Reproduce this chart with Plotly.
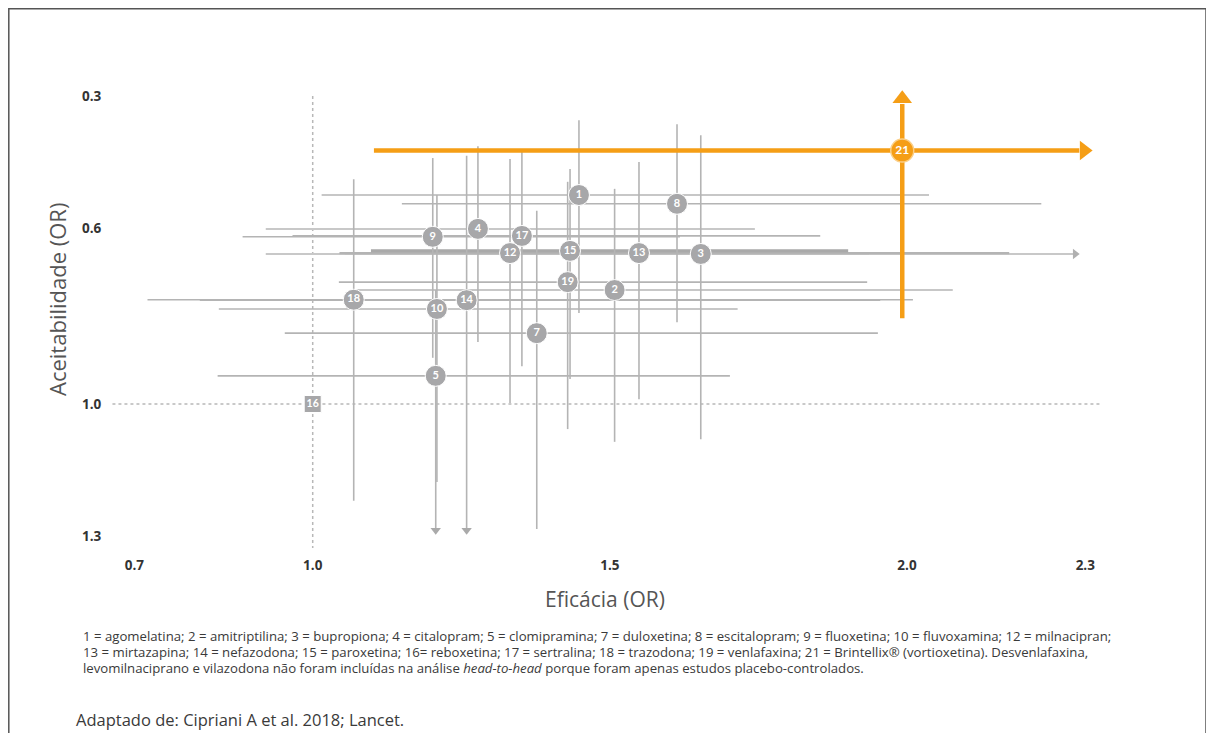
import plotly.graph_objects as go

# ---------------- data ----------------
drug_ids = ["1", "2", "3", "4", "5", "7", "8", "9", "10", "12", "13", "14", "15", "17", "18", "19"]
efficacy = [1.448, 1.508, 1.653, 1.278, 1.207, 1.377, 1.613, 1.202, 1.209, 1.332, 1.549, 1.259, 1.433, 1.352, 1.069, 1.429]
acceptability = [0.525, 0.741, 0.659, 0.602, 0.936, 0.839, 0.545, 0.620, 0.784, 0.657, 0.657, 0.764, 0.652, 0.618, 0.763, 0.723]
eff_low = [1.015, 1.074, 0.921, 0.921, 0.840, 0.953, 1.150, 0.882, 0.842, 1.045, 1.054, 0.810, 1.098, 0.966, 0.722, 1.044]
eff_high = [2.037, 2.077, None, 1.744, 1.702, 1.951, 2.226, 1.618, 1.715, 1.936, 2.172, 1.955, 1.901, 1.854, 2.010, 1.933]
acc_low = [0.355, 0.511, 0.389, 0.414, 0.741, 0.561, 0.364, 0.441, 0.525, 0.443, 0.450, 0.436, 0.466, 0.427, 0.489, 0.495]
acc_high = [0.793, 1.086, 1.080, 0.859, None, 1.284, 0.814, 0.895, 1.177, 0.998, 0.989, None, 0.943, 0.914, 1.220, 1.057]

ref_id = "16"
ref_eff = 1.0
ref_acc = 1.0

vort_id = "21"
vort_eff = 1.992
vort_acc = 0.424
vort_eff_low = 1.103
vort_acc_high = 0.805

x_tickvals = [0.7, 1.0, 1.5, 2.0, 2.3]
x_ticktext = ["0.7", "1.0", "1.5", "2.0", "2.3"]
y_tickvals = [0.3, 0.6, 1.0, 1.3]
y_ticktext = ["0.3", "0.6", "1.0", "1.3"]

x_title = "Eficácia (OR)"
y_title = "Aceitabilidade (OR)"
footnote_lines = [
    "1 = agomelatina; 2 = amitriptilina; 3 = bupropiona; 4 = citalopram; 5 = clomipramina; "
    "7 = duloxetina; 8 = escitalopram; 9 = fluoxetina; 10 = fluvoxamina; 12 = milnacipran;",
    "13 = mirtazapina; 14 = nefazodona; 15 = paroxetina; 16= reboxetina; 17 = sertralina; "
    "18 = trazodona; 19 = venlafaxina; 21 = Brintellix® (vortioxetina). Desvenlafaxina,",
    "levomilnaciprano e vilazodona não foram incluídas na análise <i>head-to-head</i> "
    "porque foram apenas estudos placebo-controlados.",
]
source = "Adaptado de: Cipriani A et al. 2018; Lancet."

# ---------------- styles / geometry ----------------
PAGE_OFF = 8                     # browser body margin
W, H = 1206, 725
ML, MR, MT, MB = 67, 99, 44, 153
X_RANGE = [0.6, 2.35]
Y_RANGE = [1.4, 0.2]
X_OPEN_GRAY = 2.283      # where open-ended grey CIs stop (arrow)
Y_OPEN_GRAY = 1.283
X_OPEN_ORANGE = 2.29
Y_OPEN_ORANGE = 0.318

GRAY_LINE = "#b4b4b4"
GRAY_MARK = "#a7a7a9"
ORANGE = "#f59e16"
FONT = "Lato"
TFONT = "Open Sans"

fig = go.Figure()

# horizontal (efficacy) CIs
for i, d in enumerate(drug_ids):
    hi = eff_high[i] if eff_high[i] is not None else X_OPEN_GRAY
    width = 1.6
    color = GRAY_LINE
    if d == "15":
        width, color = 3.2, "#a9a9a9"
    elif d in ("12", "13"):
        width = 2.2
    elif d in ("3", "4"):
        color = "#c8c8c8"
        width = 2.0
    fig.add_trace(go.Scatter(x=[eff_low[i], hi], y=[acceptability[i], acceptability[i]],
                             mode="lines", line=dict(color=color, width=width),
                             hoverinfo="skip", showlegend=False))
    if eff_high[i] is None:
        fig.add_trace(go.Scatter(x=[hi], y=[acceptability[i]], mode="markers",
                                 marker=dict(symbol="triangle-right", size=9, color="#b0b0b0"),
                                 hoverinfo="skip", showlegend=False))

# vertical (acceptability) CIs
for i, d in enumerate(drug_ids):
    hi = acc_high[i] if acc_high[i] is not None else Y_OPEN_GRAY
    fig.add_trace(go.Scatter(x=[efficacy[i], efficacy[i]], y=[acc_low[i], hi],
                             mode="lines", line=dict(color=GRAY_LINE, width=1.6),
                             hoverinfo="skip", showlegend=False))
    if acc_high[i] is None:
        fig.add_trace(go.Scatter(x=[efficacy[i]], y=[hi + 0.004], mode="markers",
                                 marker=dict(symbol="triangle-down", size=9, color="#aaaaaa"),
                                 hoverinfo="skip", showlegend=False))

# vortioxetine (orange) CIs with arrows
fig.add_trace(go.Scatter(x=[vort_eff_low, X_OPEN_ORANGE], y=[vort_acc, vort_acc], mode="lines",
                         line=dict(color=ORANGE, width=4.5), hoverinfo="skip", showlegend=False))
fig.add_trace(go.Scatter(x=[vort_eff, vort_eff], y=[vort_acc_high, Y_OPEN_ORANGE], mode="lines",
                         line=dict(color=ORANGE, width=4.5), hoverinfo="skip", showlegend=False))
fig.add_trace(go.Scatter(x=[X_OPEN_ORANGE + 0.008], y=[vort_acc], mode="markers",
                         marker=dict(symbol="triangle-right", size=17, color=ORANGE),
                         hoverinfo="skip", showlegend=False))
fig.add_trace(go.Scatter(x=[vort_eff], y=[Y_OPEN_ORANGE - 0.012], mode="markers",
                         marker=dict(symbol="triangle-up", size=17, color=ORANGE),
                         hoverinfo="skip", showlegend=False))

# drug markers
fig.add_trace(go.Scatter(x=efficacy, y=acceptability, mode="markers+text", text=drug_ids,
                         textposition="middle center",
                         textfont=dict(family=FONT, size=11, color="white", weight="bold"),
                         marker=dict(symbol="circle", size=21, color=GRAY_MARK,
                                     line=dict(color="white", width=1)),
                         hoverinfo="skip", showlegend=False))
fig.add_trace(go.Scatter(x=[ref_eff], y=[ref_acc], mode="markers+text", text=[ref_id],
                         textposition="middle center",
                         textfont=dict(family=FONT, size=10.5, color="white", weight="bold"),
                         marker=dict(symbol="square", size=17, color=GRAY_MARK,
                                     line=dict(color="white", width=1)),
                         hoverinfo="skip", showlegend=False))
fig.add_trace(go.Scatter(x=[vort_eff], y=[vort_acc], mode="markers+text", text=[vort_id],
                         textposition="middle center",
                         textfont=dict(family=FONT, size=12, color="white", weight="bold"),
                         marker=dict(symbol="circle", size=23, color=ORANGE,
                                     line=dict(color="#fbd08a", width=1.5)),
                         hoverinfo="skip", showlegend=False))

# dotted reference lines at OR = 1
fig.add_shape(type="line", xref="x", yref="y", x0=1.0, x1=1.0, y0=0.3, y1=1.327,
              line=dict(color="#b8b8b8", width=1.5, dash="dot"), layer="below")
fig.add_shape(type="line", xref="x", yref="y", x0=0.663, x1=2.325, y0=1.0, y1=1.0,
              line=dict(color="#b8b8b8", width=1.5, dash="dot"), layer="below")

# page-pixel -> paper helpers
pw, ph = W - ML - MR, H - MT - MB
def px_x(p):
    return (p - PAGE_OFF - ML) / pw
def px_y(p):
    return (H - MB - (p - PAGE_OFF)) / ph

# outer frame
fig.add_shape(type="rect", xref="paper", yref="paper",
              x0=px_x(8.8), x1=px_x(1206), y0=px_y(760), y1=px_y(8.8),
              line=dict(color="#555555", width=1.5), fillcolor="rgba(0,0,0,0)", layer="below")

# titles and notes
fig.add_annotation(xref="paper", yref="paper", x=px_x(605), y=px_y(599), text=x_title,
                   showarrow=False, font=dict(family=TFONT, size=21, color="#555555"),
                   xanchor="center", yanchor="middle")
fig.add_annotation(xref="paper", yref="paper", x=px_x(57), y=px_y(300), text=y_title,
                   showarrow=False, textangle=-90, font=dict(family=TFONT, size=22, color="#555555"),
                   xanchor="center", yanchor="middle")
for k, line in enumerate(footnote_lines):
    fig.add_annotation(xref="paper", yref="paper", x=px_x(81), y=px_y(636 + 16 * k), text=line,
                       showarrow=False, align="left", xanchor="left", yanchor="middle",
                       font=dict(family=TFONT, size=13.2, color="#3a3a3a"))
fig.add_annotation(xref="paper", yref="paper", x=px_x(74), y=px_y(719), text=source,
                   showarrow=False, align="left", xanchor="left", yanchor="middle",
                   font=dict(family=TFONT, size=16.5, color="#3a3a3a"))

fig.update_layout(
    width=W, height=H,
    margin=dict(l=ML, r=MR, t=MT, b=MB, autoexpand=False),
    paper_bgcolor="white", plot_bgcolor="white",
    xaxis=dict(range=X_RANGE, tickvals=x_tickvals, ticktext=x_ticktext, showgrid=False,
               zeroline=False, showline=False, ticks="", ticklabelposition="inside",
               ticklabelstandoff=4,
               tickfont=dict(family=TFONT, size=13.5, color="#333333", weight="bold")),
    yaxis=dict(range=Y_RANGE, tickvals=y_tickvals, ticktext=y_ticktext, showgrid=False,
               zeroline=False, showline=False, ticks="", ticklabelposition="inside",
               ticklabelstandoff=4,
               tickfont=dict(family=TFONT, size=13.5, color="#333333", weight="bold")),
)

fig.write_html("out.html")
